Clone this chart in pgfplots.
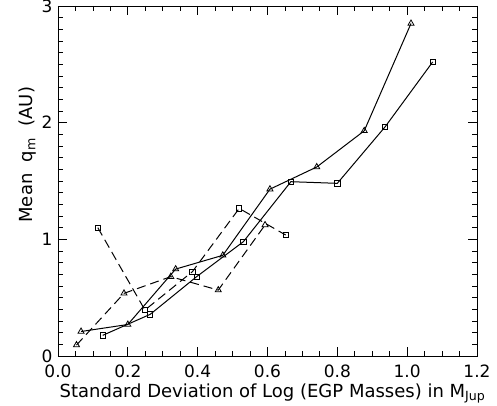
\documentclass[border=0pt]{standalone}
\usepackage{fontspec}
\setmainfont{DejaVu Sans}
\usepackage{pgfplots}
\pgfplotsset{compat=1.18}
\begin{document}
\begin{tikzpicture}
\begin{axis}[
  scale only axis,
  width=419bp, height=350bp,
  xmin=0, xmax=1.2, ymin=0, ymax=3,
  xtick={0,0.2,...,1.2},
  ytick={0,1,2,3},
  minor x tick num=3,
  minor y tick num=9,
  xticklabels={0.0,0.2,0.4,0.6,0.8,1.0,1.2},
  tick align=inside,
  major tick length=9bp,
  minor tick length=5bp,
  axis line style={line width=0.9bp},
  every tick/.style={line width=0.8bp, black},
  tick label style={font=\fontsize{17bp}{19bp}\selectfont},
  xticklabel style={yshift=-5bp},
  yticklabel style={xshift=-2bp},
  label style={font=\fontsize{18bp}{20bp}\selectfont},
  /pgf/number format/assume math mode=true,
  xlabel={Standard Deviation of Log (EGP Masses) in M\textsubscript{Jup}},
  ylabel={Mean\ \ q\textsubscript{m}\ \ (AU)},
  xlabel style={at={(axis description cs:0.512,-0.107)}, anchor=center},
  ylabel style={at={(axis description cs:-0.072,0.575)}, anchor=center},
  every axis plot/.append style={line width=1bp, black},
  mark options={solid, fill=white, line width=0.8bp},
]
\coordinate (O) at (rel axis cs:0,0);
% solid triangles
\addplot[mark=triangle, mark size=3.5bp] coordinates {
 (0.066,0.21) (0.200,0.27) (0.337,0.745) (0.472,0.863) (0.607,1.43)
 (0.741,1.62) (0.877,1.93) (1.011,2.85)};
% solid squares
\addplot[mark=square, mark size=2.6bp] coordinates {
 (0.128,0.177) (0.264,0.357) (0.397,0.68) (0.531,0.98) (0.667,1.494)
 (0.800,1.48) (0.937,1.965) (1.073,2.52)};
% dashed triangles
\addplot[mark=triangle, mark size=3.5bp, dash pattern=on 9bp off 5bp] coordinates {
 (0.053,0.094) (0.189,0.537) (0.323,0.68) (0.459,0.565) (0.593,1.123)};
% dashed squares
\addplot[mark=square, mark size=2.6bp, dash pattern=on 9bp off 5bp] coordinates {
 (0.114,1.10) (0.249,0.394) (0.385,0.723) (0.519,1.265) (0.652,1.037)};
\end{axis}
\pgfresetboundingbox
\path[use as bounding box] (O) ++(-58bp,-50bp) rectangle ++(497bp,406bp);
\end{tikzpicture}
\end{document}
